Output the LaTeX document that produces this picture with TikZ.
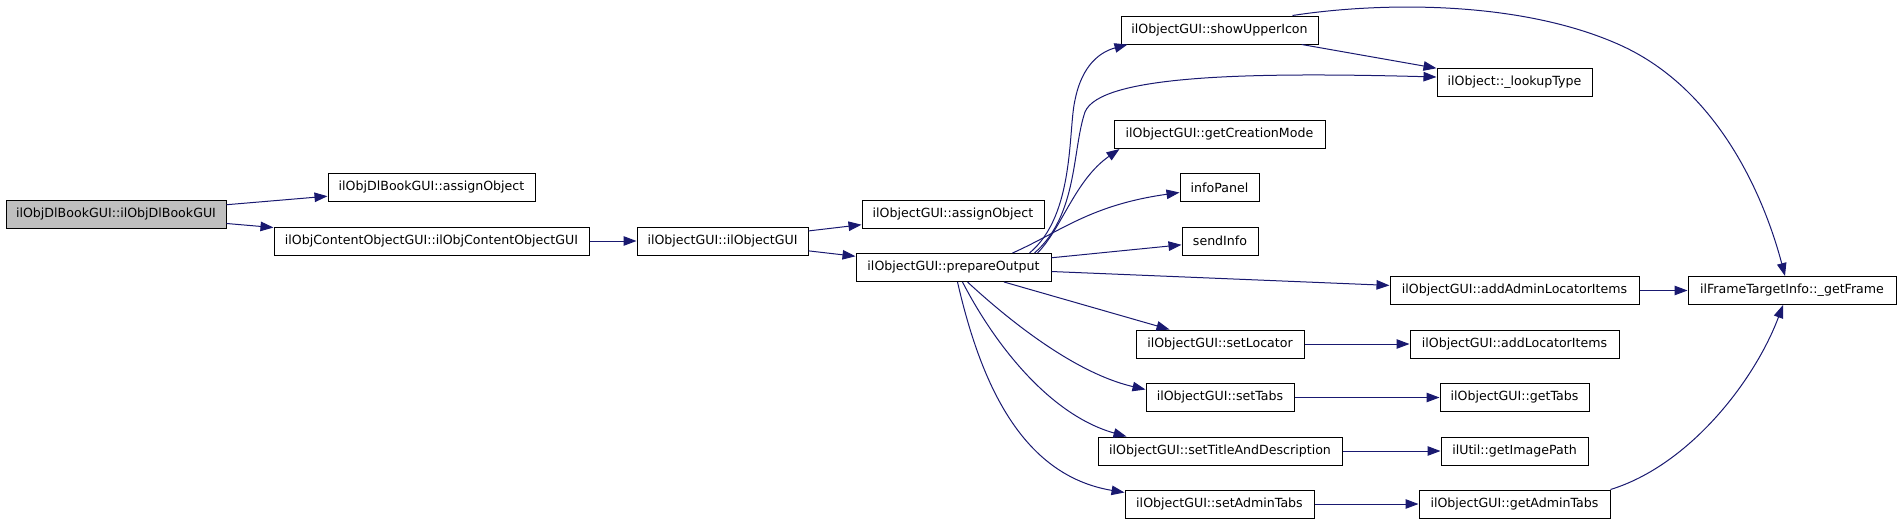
\documentclass[tikz,border=0pt]{standalone}
\usepackage{fontspec}
\setmainfont{DejaVu Sans}
\usetikzlibrary{arrows.meta}
\definecolor{edgecol}{RGB}{25,25,112}
\definecolor{grayfill}{RGB}{191,191,191}
\begin{document}
\begin{tikzpicture}[x=1pt,y=-1pt,
  box/.style={draw=black,line width=1pt,fill=white,minimum height=28pt,inner sep=0pt,
    font=\fontsize{12.6}{14}\selectfont},
  cur/.style={box,fill=grayfill},
  link/.style={draw=edgecol,line width=1pt,-{Triangle[length=13pt,width=9.5pt]}}]
\useasboundingbox (0,0) rectangle (1901,525);
\node[cur,minimum width=220pt] (a) at (116,214) {ilObjDlBookGUI::ilObjDlBookGUI};
\node[box,minimum width=207pt] (b) at (431.5,187.5) {ilObjDlBookGUI::assignObject};
\node[box,minimum width=315pt] (c) at (431.5,241) {ilObjContentObjectGUI::ilObjContentObjectGUI};
\node[box,minimum width=171pt] (d) at (722.5,241) {ilObjectGUI::ilObjectGUI};
\node[box,minimum width=182pt] (e) at (953,214) {ilObjectGUI::assignObject};
\node[box,minimum width=195pt] (f) at (953.5,267.5) {ilObjectGUI::prepareOutput};
\node[box,minimum width=197pt] (g) at (1219.5,30) {ilObjectGUI::showUpperIcon};
\node[box,minimum width=155pt] (h) at (1514.5,82) {ilObject::\_lookupType};
\node[box,minimum width=211pt] (i) at (1219.5,134.5) {ilObjectGUI::getCreationMode};
\node[box,minimum width=79pt] (j) at (1219.5,187.5) {infoPanel};
\node[box,minimum width=76pt] (k) at (1220,241) {sendInfo};
\node[box,minimum width=249pt] (l) at (1514.5,290.5) {ilObjectGUI::addAdminLocatorItems};
\node[box,minimum width=208pt] (m) at (1792,290.5) {ilFrameTargetInfo::\_getFrame};
\node[box,minimum width=168pt] (n) at (1220,344) {ilObjectGUI::setLocator};
\node[box,minimum width=209pt] (o) at (1514.5,344) {ilObjectGUI::addLocatorItems};
\node[box,minimum width=148pt] (p) at (1220,397.5) {ilObjectGUI::setTabs};
\node[box,minimum width=149pt] (q) at (1514.5,397.5) {ilObjectGUI::getTabs};
\node[box,minimum width=244pt] (r) at (1220,451) {ilObjectGUI::setTitleAndDescription};
\node[box,minimum width=147pt] (s) at (1514.5,451) {ilUtil::getImagePath};
\node[box,minimum width=189pt] (t) at (1219.5,504) {ilObjectGUI::setAdminTabs};
\node[box,minimum width=191pt] (u) at (1514.5,504) {ilObjectGUI::getAdminTabs};
% straight connectors
\draw[link] (a) -- (b);
\draw[link] (a) -- (c);
\draw[link] (c) -- (d);
\draw[link] (d) -- (e);
\draw[link] (d) -- (f);
\draw[link] (f) -- (k);
\draw[link] (f) -- (l);
\draw[link] (f) -- (n);
\draw[link] (g) -- (h);
\draw[link] (l) -- (m);
\draw[link] (n) -- (o);
\draw[link] (p) -- (q);
\draw[link] (r) -- (s);
\draw[link] (t) -- (u);
% curved connectors
\draw[link] ([xshift=174pt]f.north west) .. controls (1075,215) and (1068,130) .. (1075,100)
  .. controls (1082,65) and (1100,52) .. ([xshift=7pt]g.south west);
\draw[link] ([xshift=179pt]f.north west) .. controls (1078,215) and (1072,150) .. (1085,112)
  .. controls (1100,75) and (1250,72) .. ([yshift=5pt]h.west);
\draw[link] ([xshift=182pt]f.north west) .. controls (1062,228) and (1075,180) .. ([xshift=6pt]i.south west);
\draw[link] ([xshift=157pt]f.north west) .. controls (1060,232) and (1090,205) .. ([yshift=-5pt]j.west);
\draw[link] ([xshift=112pt]f.south west) .. controls (1000,312) and (1070,372) .. ([yshift=8pt]p.west);
\draw[link] ([xshift=107pt]f.south west) .. controls (995,345) and (1050,415) .. ([xshift=29pt]r.north west);
\draw[link] ([xshift=102pt]f.south west) .. controls (980,380) and (1020,475) .. ([yshift=-3pt]t.north west);
\draw[link] ([xshift=-26pt]g.north east) .. controls (1380,2) and (1520,0) .. (1620,45)
  .. controls (1720,90) and (1765,200) .. ([xshift=-7pt]m.north);
\draw[link] (u.north east) .. controls (1690,465) and (1755,380) .. ([xshift=-9pt]m.south);
\end{tikzpicture}
\end{document}
